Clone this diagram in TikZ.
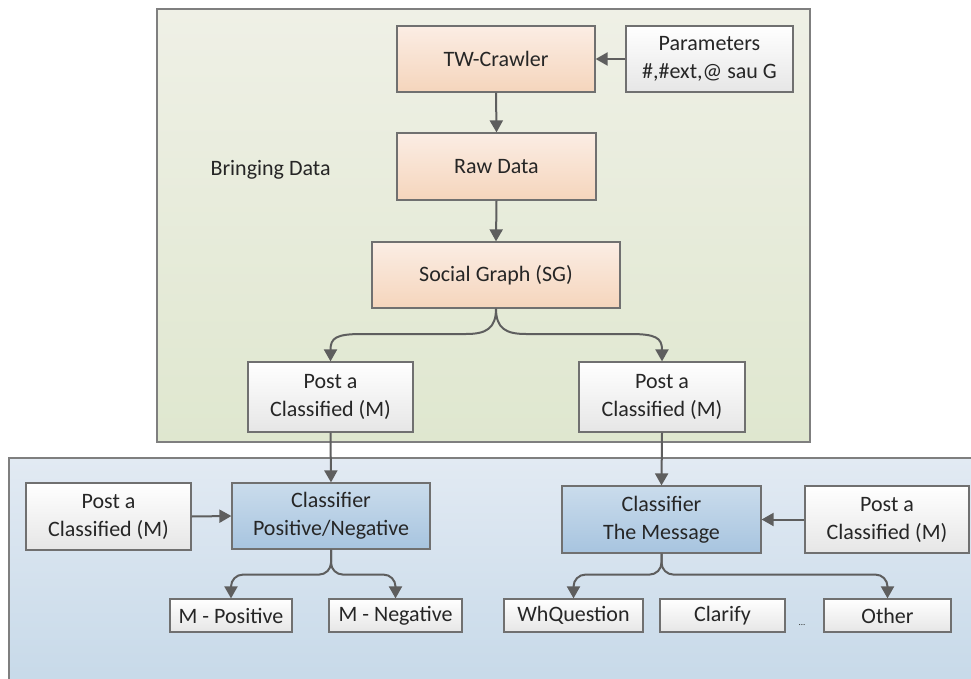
\documentclass[tikz,border=0pt]{standalone}
\usepackage{fontspec}
\setmainfont{Carlito}
\usetikzlibrary{arrows.meta}
\definecolor{greenT}{HTML}{EFF0E6}
\definecolor{greenB}{HTML}{DFE7CF}
\definecolor{blueT}{HTML}{E2EAF3}
\definecolor{blueB}{HTML}{C5D8E8}
\definecolor{orT}{HTML}{FBEDE4}
\definecolor{orB}{HTML}{F5D5BC}
\definecolor{blT}{HTML}{CADCEC}
\definecolor{blB}{HTML}{A7C4DF}
\definecolor{wB}{HTML}{E6E6E6}
\definecolor{boxline}{HTML}{707070}
\definecolor{frame}{HTML}{7F7F7F}
\definecolor{arrc}{HTML}{5E5E5E}
\definecolor{txt}{HTML}{262626}
\begin{document}
\begin{tikzpicture}[x=1pt,y=-1pt,
  box/.style={draw=boxline, line width=1.2pt, text=txt, align=center, inner sep=0pt,
    font=\fontsize{22}{28}\selectfont},
  orbox/.style={box, top color=orT, bottom color=orB},
  whbox/.style={box, top color=white, bottom color=wB},
  blbox/.style={box, top color=blT, bottom color=blB},
  arr/.style={draw=arrc, line width=2pt, -{Triangle[length=12pt,width=13pt]}}
]
\useasboundingbox (0,0) rectangle (971,679);
\clip (0,0) rectangle (971,679);
\fill[white] (0,0) rectangle (971,679);

% containers
\draw[draw=frame, line width=2.5pt, top color=greenT, bottom color=greenB]
  (157,9) rectangle (810,442);
\draw[draw=frame, line width=2.5pt, top color=blueT, bottom color=blueB]
  (9,458) rectangle (990,700);

\node[font=\fontsize{22}{28}\selectfont, text=txt, anchor=west] (bring) at (207,170) {Bringing Data};

% top nodes
\node[orbox, minimum width=198, minimum height=66] (tw) at (496,59) {TW-Crawler};
\node[whbox, minimum width=167, minimum height=66] (param) at (709.5,59) {Parameters\\\#,\#ext,@ sau G};
\node[orbox, minimum width=199, minimum height=67] (raw) at (496.5,166.5) {Raw Data};
\node[orbox, minimum width=248, minimum height=66] (sg) at (496,275) {Social Graph (SG)};
\node[whbox, minimum width=165, minimum height=70] (postL) at (330.5,397) {Post a\\Classified (M)};
\node[whbox, minimum width=166, minimum height=70] (postR) at (662,397) {Post a\\Classified (M)};

% bottom nodes
\node[blbox, minimum width=198, minimum height=66] (clsPN) at (331,516) {Classifier\\Positive/Negative};
\node[whbox, minimum width=165, minimum height=67] (postBL) at (108.5,516.5) {Post a\\Classified (M)};
\node[whbox, minimum width=122, minimum height=33] (mpos) at (231,615.5) {M - Positive};
\node[whbox, minimum width=133, minimum height=33] (mneg) at (395.5,615.5) {M - Negative};
\node[blbox, minimum width=199, minimum height=67] (clsM) at (661.5,519.5) {Classifier\\The Message};
\node[whbox, minimum width=164, minimum height=67] (postBR) at (887,519.5) {Post a\\Classified (M)};
\node[whbox, minimum width=139, minimum height=33] (whq) at (573.5,615.5) {WhQuestion};
\node[whbox, minimum width=125, minimum height=33] (clar) at (722.5,615.5) {Clarify};
\node[whbox, minimum width=127, minimum height=33] (other) at (887.5,615.5) {Other};
\node[text=txt, font=\fontsize{9}{10}\selectfont, inner sep=0pt] (dots) at (802,625) {...};

% connectors
\draw[arr] (param.west) -- (tw.east);
\draw[arr] (tw.south) -- (raw.north);
\draw[arr] (raw.south) -- (sg.north);
\draw[arr] (sg.south) .. controls ++(0,20) and (486,334) .. (466,334) -- (362,334)
  .. controls (336,334) and (postL.north |- 0,338) .. (postL.north);
\draw[arr] (sg.south) .. controls ++(0,20) and (506,334) .. (526,334) -- (630,334)
  .. controls (656,334) and (postR.north |- 0,338) .. (postR.north);
\draw[arr] (postL.south) -- (clsPN.north);
\draw[arr] (postR.south) -- (clsM.north);
\draw[arr] (postBL.east) -- (clsPN.west);
\draw[arr] (postBR.west) -- (clsM.east);
\draw[arr, rounded corners=12pt] (clsPN.south) -- ++(0,25) -| (mpos.north);
\draw[arr, rounded corners=12pt] (clsPN.south) -- ++(0,25) -| (mneg.north);
\draw[arr, rounded corners=12pt] (clsM.south) -- ++(0,21) -| (whq.north);
\draw[arr, rounded corners=12pt] (clsM.south) -- ++(0,21) -| (other.north);
\end{tikzpicture}
\end{document}
